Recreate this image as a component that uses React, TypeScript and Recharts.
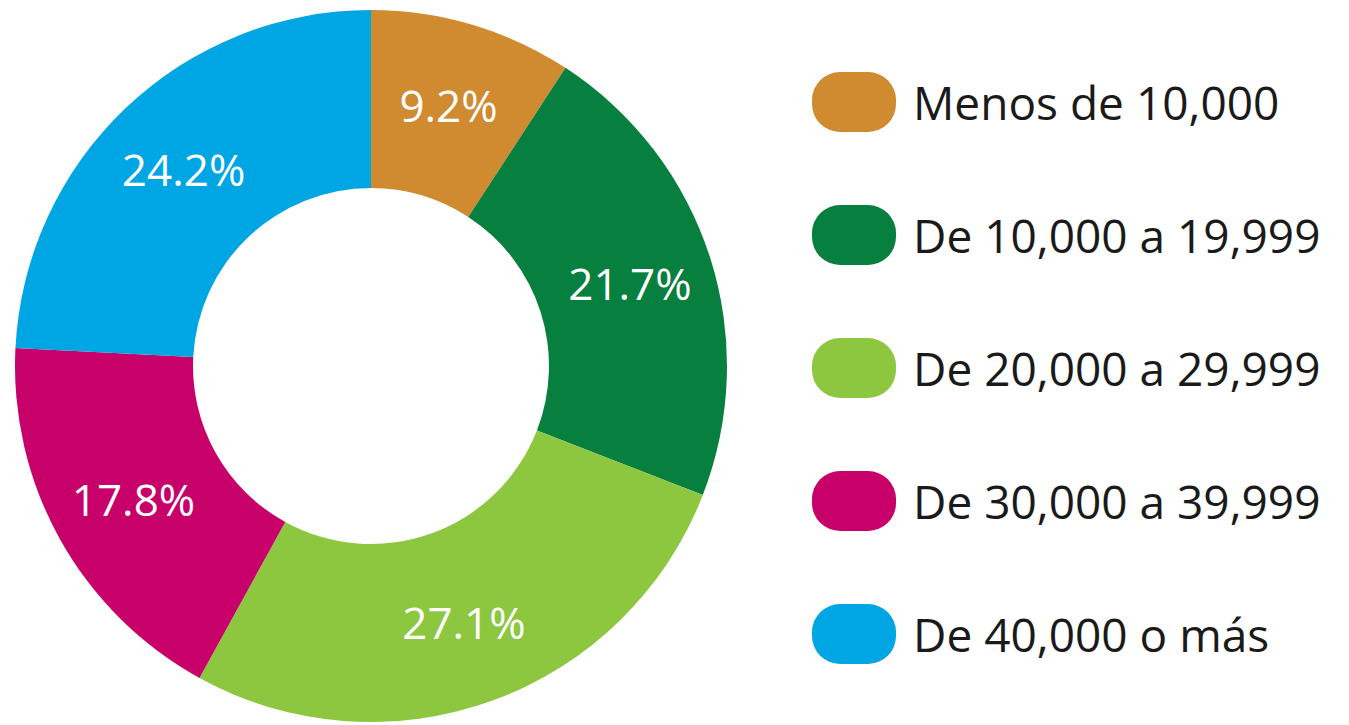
import { PieChart, Pie, Cell } from 'recharts';

const categories = ['Menos de 10,000', 'De 10,000 a 19,999', 'De 20,000 a 29,999', 'De 30,000 a 39,999', 'De 40,000 o más'];
const shares = [9.2, 21.7, 27.1, 17.8, 24.2];
const colors = ['#D08A30', '#077F3E', '#8DC63F', '#C7006A', '#00A6E4'];

const data = categories.map((name, i) => ({ name, value: shares[i] }));

const RADIAN = Math.PI / 180;
const FONT = '"Open Sans", "Noto Sans", sans-serif';

const renderLabel = (props: any) => {
  const { cx, cy, midAngle, value } = props;
  const r = 272;
  const x = cx + r * Math.cos(-midAngle * RADIAN);
  const y = cy + r * Math.sin(-midAngle * RADIAN);
  return (
    <text x={x} y={y} fill="#fff" fontSize={44} fontFamily={FONT} textAnchor="middle" dominantBaseline="central">
      {value.toFixed(1)}%
    </text>
  );
};

const LegendList = () => (
  <div style={{ position: 'absolute', left: 812, top: 72, fontFamily: FONT }}>
    {data.map((d, i) => (
      <div key={d.name} style={{ display: 'flex', alignItems: 'center', height: 60, marginBottom: 73 }}>
        <div style={{ width: 84, height: 60, borderRadius: 28, background: colors[i], marginRight: 17, flexShrink: 0 }} />
        <span style={{ fontSize: 46, color: '#1a1a1a', whiteSpace: 'nowrap', lineHeight: '60px' }}>{d.name}</span>
      </div>
    ))}
  </div>
);

export default function App() {
  return (
    <div style={{ position: 'absolute', left: 0, top: 0, width: 1349, height: 725, background: '#fff' }}>
      <PieChart width={760} height={725} margin={{ top: 0, right: 0, bottom: 0, left: 0 }}>
        <Pie
          data={data}
          dataKey="value"
          nameKey="name"
          cx={371}
          cy={366}
          innerRadius={178}
          outerRadius={356}
          startAngle={90}
          endAngle={-270}
          stroke="none"
          label={renderLabel}
          labelLine={false}
          isAnimationActive={false}
        >
          {data.map((d, i) => (
            <Cell key={d.name} fill={colors[i]} />
          ))}
        </Pie>
      </PieChart>
      <LegendList />
    </div>
  );
}
